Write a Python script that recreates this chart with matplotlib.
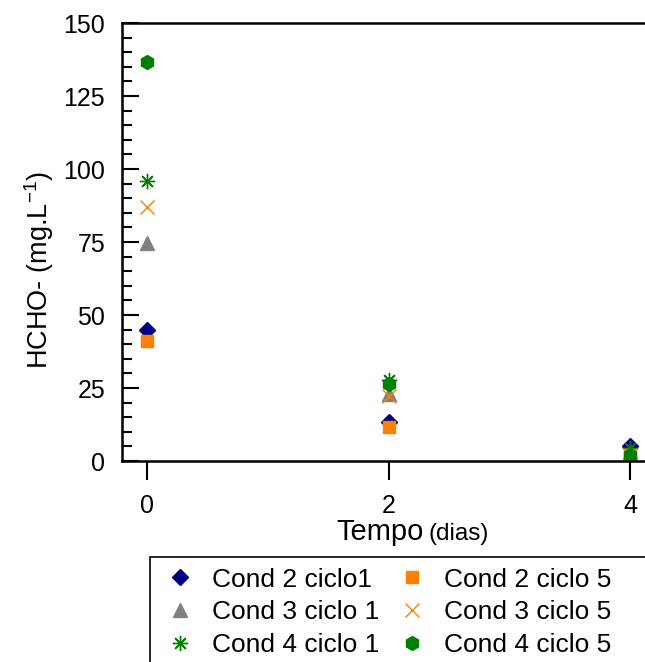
import matplotlib
matplotlib.use("Agg")
import matplotlib.pyplot as plt
from matplotlib.patches import Rectangle
from matplotlib.ticker import MultipleLocator

plt.rcParams['font.family'] = ['Liberation Sans', 'DejaVu Sans']

dias = [0, 2, 4]
c2_ciclo1 = [44.9, 13.4, 5.2]
c2_ciclo5 = [41.0, 11.8, 2.0]
c3_ciclo1 = [74.5, 22.8, 3.0]
c3_ciclo5 = [87.0, 22.3, 2.0]
c4_ciclo1 = [95.8, 27.8, 4.5]
c4_ciclo5 = [136.6, 26.5, 2.0]

labels = ["Cond 2 ciclo1", "Cond 3 ciclo 1", "Cond 4 ciclo 1",
          "Cond 2 ciclo 5", "Cond 3 ciclo 5", "Cond 4 ciclo 5"]

fig = plt.figure(figsize=(6.45, 6.62), dpi=100)
ax = fig.add_axes([0.189, 0.3036, 0.811, 0.6616])

h1, = ax.plot(dias, c2_ciclo1, linestyle='none', marker='D', ms=8, color='#000080', mec='#000080')
h2, = ax.plot(dias, c3_ciclo1, linestyle='none', marker='^', ms=10, color='#808080', mec='#808080')
h3, = ax.plot(dias, c4_ciclo1, linestyle='none', marker=(8, 2, 0), ms=11, color='#008000', mec='#008000', mew=1)
h4, = ax.plot(dias, c2_ciclo5, linestyle='none', marker='s', ms=8, color='#FF8000', mec='#FF8000')
h5, = ax.plot(dias, c3_ciclo5, linestyle='none', marker='x', ms=10, color='#FF8000', mec='#FF8000', mew=1)
h6, = ax.plot(dias, c4_ciclo5, linestyle='none', marker='h', ms=10, color='#008000', mec='#008000')

ax.set_xlim(-0.207, 4.12)
ax.set_ylim(0, 150)
ax.set_xticks(dias)
ax.yaxis.set_major_locator(MultipleLocator(25))
ax.yaxis.set_minor_locator(MultipleLocator(5))
ax.tick_params(axis='y', which='major', direction='in', length=12, width=1.5, labelsize=18, pad=12)
ax.tick_params(axis='y', which='minor', direction='in', length=7, width=1.5)
ax.tick_params(axis='x', which='major', direction='out', length=14, width=1.5, labelsize=18, pad=10)
for s in ['left', 'bottom', 'top']:
    ax.spines[s].set_linewidth(1.8)
ax.spines['right'].set_visible(False)

# x label: "Tempo" larger, "(dias)" smaller
fig.text(424 / 645, 1 - 540 / 662, "Tempo", fontsize=21, ha='right', va='baseline')
fig.text(428 / 645, 1 - 540 / 662, "(dias)", fontsize=17.5, ha='left', va='baseline')

ax.set_ylabel("HCHO- (mg.L$^{\\mathregular{-1}}$)", fontsize=19.5)
ax.yaxis.set_label_coords((56 - 122) / 523, (461 - 270) / 438)

leg = fig.legend([h1, h2, h3, h4, h5, h6], labels, ncol=2, loc='upper left',
                 bbox_to_anchor=(150 / 645, 1 - 557 / 662), fontsize=19, frameon=False,
                 handletextpad=0.45, columnspacing=0.5, labelspacing=0.33,
                 borderpad=0.4, handlelength=1.5, borderaxespad=0)

# legend frame running off the right and bottom edges, as in the reference
fig.patches.append(Rectangle((150 / 645, -0.05), 1.0, (1 - 557 / 662) + 0.05,
                             transform=fig.transFigure, fill=False,
                             edgecolor='black', linewidth=1.2))

fig.savefig("out.png", dpi=100)
